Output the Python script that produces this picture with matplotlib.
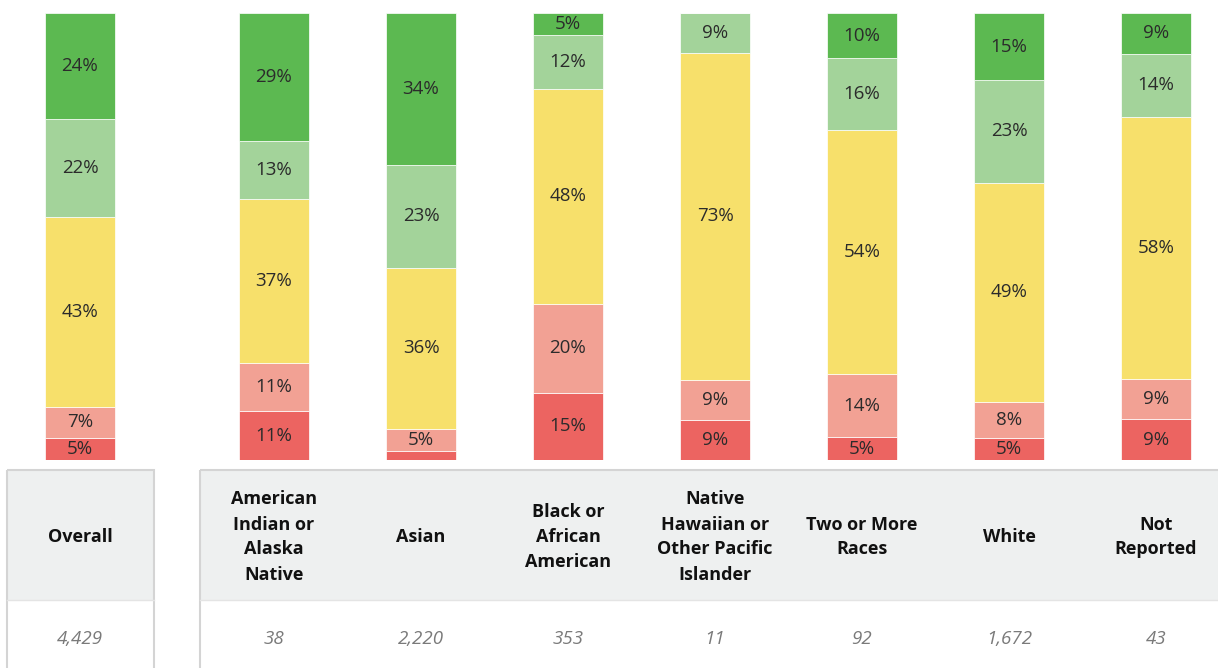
import matplotlib.pyplot as plt
import numpy as np
from matplotlib.patches import Rectangle

plt.rcParams["font.family"] = ["Open Sans", "DejaVu Sans"]

GROUPS = [
    "Overall",
    "American\nIndian or\nAlaska\nNative",
    "Asian",
    "Black or\nAfrican\nAmerican",
    "Native\nHawaiian or\nOther Pacific\nIslander",
    "Two or More\nRaces",
    "White",
    "Not\nReported",
]
COUNTS = ["4,429", "38", "2,220", "353", "11", "92", "1,672", "43"]

# stacked bottom -> top
RED = [5, 11, 2, 15, 9, 5, 5, 9]
LIGHT_RED = [7, 11, 5, 20, 9, 14, 8, 9]
YELLOW = [43, 37, 36, 48, 73, 54, 49, 58]
LIGHT_GREEN = [22, 13, 23, 12, 9, 16, 23, 14]
GREEN = [24, 29, 34, 5, 0, 10, 15, 9]

SERIES = [RED, LIGHT_RED, YELLOW, LIGHT_GREEN, GREEN]
COLORS = ["#ec6461", "#f2a194", "#f7e06b", "#a3d39a", "#5cb951"]

W, H = 1218, 668
fig = plt.figure(figsize=(W / 100, H / 100), dpi=100)

# bar area, laid out in pixel-ish units (1 unit = 147 px)
unit = 147
x_pos = np.array([0] + [194 / unit + i for i in range(7)])
left = -80 / unit
ax = fig.add_axes([0, (H - 460) / H, 1, 447 / H])
ax.set_xlim(left, left + W / unit)

data = np.array(SERIES, dtype=float)
totals = data.sum(axis=0)
pct = data / totals * 100
ax.set_ylim(0, 100)

bottom = np.zeros(len(GROUPS))
for vals, shares, color in zip(SERIES, pct, COLORS):
    ax.bar(x_pos, shares, bottom=bottom, width=70 / unit, color=color,
           edgecolor="white", linewidth=0.5)
    for x, v, b, s in zip(x_pos, vals, bottom, shares):
        if v >= 3:
            ax.text(x, b + s / 2, f"{v}%", ha="center", va="center",
                    fontsize=13.5, color="#2b2b2b")
    bottom += shares
ax.axis("off")

# table below the bars, in figure pixels
tab = fig.add_axes([0, 0, 1, 1])
tab.set_xlim(0, W)
tab.set_ylim(H, 0)
tab.axis("off")
tab.set_zorder(-1)

for x0, x1 in [(7, 154), (200, W + 5)]:
    tab.add_patch(Rectangle((x0, 470), x1 - x0, 130, facecolor="#eef0f0",
                            edgecolor="none"))
    tab.add_patch(Rectangle((x0, 470), x1 - x0, 220, facecolor="none",
                            edgecolor="#d4d4d4", linewidth=1.5))
    tab.plot([x0, x1], [600, 600], color="#e4e4e4", lw=1)

centers = x_pos * unit + 80
for cx, name, n in zip(centers, GROUPS, COUNTS):
    tab.text(cx, 537, name, ha="center", va="center", fontsize=13,
             fontweight="bold", color="#111111", linespacing=1.5)
    tab.text(cx, 639, n, ha="center", va="center", fontsize=13.5,
             style="italic", color="#7a7a7a")

fig.savefig("out.png", dpi=100)
